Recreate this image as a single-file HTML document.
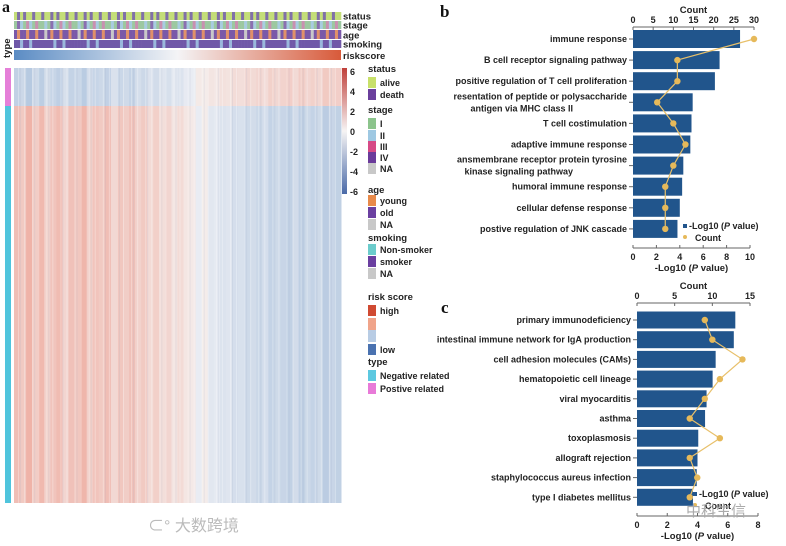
<!DOCTYPE html>
<html><head><meta charset="utf-8"><style>
body{margin:0;background:#fff;}
svg{display:block;font-family:"Liberation Sans","Noto Sans CJK SC",sans-serif;}
.t{font-size:9.5px;font-weight:bold;fill:#222;}
.s{font-size:9px;font-weight:bold;fill:#222;}
</style></head><body>
<svg id="fig" width="786" height="546" viewBox="0 0 786 546">
<g id="pa"></g>
<g id="pb"></g>
<g id="pc"></g>
<text x="148" y="531" font-size="16" fill="#bbb">⊂° 大数跨境</text>
<text x="686" y="516" font-size="15" fill="#aaa">中科生信</text>
</svg>
<script>
const NS="http://www.w3.org/2000/svg";
function mk(p,tag,at,txt){const e=document.createElementNS(NS,tag);for(const k in at)e.setAttribute(k,at[k]);if(txt!==undefined)e.textContent=txt;p.appendChild(e);return e;}

// ---------- panel b data ----------
const bTerms=["immune response","B cell receptor signaling pathway","positive regulation of T cell proliferation",["resentation of peptide or polysaccharide","antigen via MHC class II"],"T cell costimulation","adaptive immune response",["ansmembrane receptor protein tyrosine","kinase signaling pathway"],"humoral immune response","cellular defense response","postive regulation of JNK cascade"];
const bLogP=[9.15,7.4,7.0,5.1,5.0,4.9,4.3,4.2,4.0,3.8];
const bCount=[30,11,11,6,10,13,10,8,8,8];
const bPTicks=[0,2,4,6,8,10];
const bCTicks=[0,5,10,15,20,25,30];

// ---------- panel c data ----------
const cTerms=["primary immunodeficiency","intestinal immune network for IgA production","cell adhesion molecules (CAMs)","hematopoietic cell lineage","viral myocarditis","asthma","toxoplasmosis","allograft rejection","staphylococcus aureus infection","type I diabetes mellitus"];
const cLogP=[6.5,6.4,5.2,5.0,4.6,4.5,4.05,4.0,3.95,3.7];
const cCount=[9,10,14,11,9,7,11,7,8,7];
const cPTicks=[0,2,4,6,8];
const cCTicks=[0,5,10,15];

function barPanel(g,o){
  const xP=v=>o.x0+(o.x1-o.x0)*v/o.pMax;
  const xC=v=>o.x0+(o.cx1-o.x0)*v/o.cMax;
  const yc=i=>o.y0+i*o.step;
  mk(g,"text",{x:o.lx,y:o.ly,"font-size":17,"font-weight":"bold","font-family":"Liberation Serif, serif",fill:"#111"},o.letter);
  const ta=mk(g,"g",{});
  
  
  mk(ta,"line",{x1:xC(0),x2:xC(o.cMax),y1:o.topY,y2:o.topY,stroke:"#666","stroke-width":1});
  o.cTicks.forEach(t=>{mk(ta,"line",{x1:xC(t),x2:xC(t),y1:o.topY,y2:o.topY+3,stroke:"#666"});mk(ta,"text",{x:xC(t),y:o.topY-4,"text-anchor":"middle",class:"s"},t);});
  mk(ta,"text",{x:(xC(0)+xC(o.cMax))/2,y:o.topY-14,"text-anchor":"middle",class:"t"},"Count");
  o.vals.forEach((v,i)=>{
    const r=mk(g,"rect",{x:xP(0),y:yc(i)-o.bh/2,width:xP(v)-xP(0),height:o.bh,fill:"#21558c"});
    
    
    mk(g,"line",{x1:xP(0)-4,x2:xP(0),y1:yc(i),y2:yc(i),stroke:"#666"});
    const lab=o.terms[i];
    if(Array.isArray(lab)){
      mk(g,"text",{x:xP(0)-6,y:yc(i)-3,"text-anchor":"end",class:"s"},lab[0]);
      mk(g,"text",{x:xP(0)-60,y:yc(i)+9,"text-anchor":"end",class:"s"},lab[1]);
    } else {
      const t=mk(g,"text",{x:xP(0)-6,y:yc(i)+3,"text-anchor":"end",class:"s"},lab);
      
      
    }
  });
  const pts=o.counts.map((c,i)=>xC(c)+","+yc(i)).join(" ");
  const pl=mk(g,"polyline",{points:pts,fill:"none",stroke:"#e8c06a","stroke-width":1.2});
  
  o.counts.forEach((c,i)=>{
    const d=mk(g,"circle",{cx:xC(c),cy:yc(i),r:3.2,fill:"#e6b95a"});
    
    
  });
  const ba=mk(g,"g",{});
  
  
  mk(ba,"line",{x1:xP(0),x2:xP(o.pMax),y1:o.botY,y2:o.botY,stroke:"#666"});
  o.pTicks.forEach(t=>{mk(ba,"line",{x1:xP(t),x2:xP(t),y1:o.botY-3,y2:o.botY,stroke:"#666"});mk(ba,"text",{x:xP(t),y:o.botY+12,"text-anchor":"middle",class:"s"},t);});
  const tt=mk(ba,"text",{x:(xP(0)+xP(o.pMax))/2,y:o.botY+23,"text-anchor":"middle",class:"t"});
  tt.innerHTML='-Log10 (<tspan font-style="italic">P</tspan> value)';
  const lg=mk(g,"g",{});
  
  
  mk(lg,"rect",{x:o.legX,y:o.legY-5,width:4,height:4,fill:"#21558c"});
  const l1=mk(lg,"text",{x:o.legX+6,y:o.legY,class:"s"});l1.innerHTML='-Log10 (<tspan font-style="italic">P</tspan> value)';
  mk(lg,"circle",{cx:o.legX+2,cy:o.legY+8,r:2,fill:"#e6b95a"});
  mk(lg,"text",{x:o.legX+12,y:o.legY+12,class:"s"},"Count");
}
barPanel(document.getElementById('pb'),{letter:"b",lx:440,ly:17,x0:633,x1:750,pMax:10,cx1:754,cMax:30,y0:39,step:21.1,bh:18,topY:27,botY:248,
 terms:bTerms,vals:bLogP,counts:bCount,pTicks:bPTicks,cTicks:bCTicks,legX:683,legY:229});
barPanel(document.getElementById('pc'),{letter:"c",lx:441,ly:313,x0:637,x1:758,pMax:8,cx1:750,cMax:15,y0:320,step:19.7,bh:17,topY:303,botY:516,
 terms:cTerms,vals:cLogP,counts:cCount,pTicks:cPTicks,cTicks:cCTicks,legX:693,legY:497});

// ---------- panel a heatmap ----------
const colTone=[1.6,1.2,2.0,1.1,1.8,0.9,1.4,1.7,0.8,1.5,1.3,1.9,1.0,1.4,1.2,1.6,0.7,1.3,1.1,1.5,0.9,1.2,0.6,1.0,0.5,0.8,0.3,0.6,0.2,0.1,-0.1,0.0,-0.3,-0.2,-0.5,-0.4,-0.7,-0.6,-0.9,-0.8,-1.0,-0.7,-1.2,-0.9,-1.1,-1.3,-0.8,-1.4,-1.0,-1.2,-0.9,-1.5,-1.1,-1.3];
const statusCols=["#c8e06a","#6a4a9c"];
const stageCols=["#8cc48c","#9ec8e2","#d64a86","#6a3a9a","#c8c8c8"];
const a=document.getElementById('pa');
mk(a,"text",{x:2,y:12,"font-size":16,"font-weight":"bold","font-family":"Liberation Serif, serif",fill:"#111"},"a");
mk(a,"text",{x:0,y:0,transform:"translate(10,58) rotate(-90)",class:"t"},"type");
const hx0=14,hx1=341,hy0=68,hy1=503,split=106;
function col(v){
  const t=Math.max(-1,Math.min(1,v/2))*0.6;
  if(t>=0){return `rgb(${Math.round(244-8*t)},${Math.round(236-95*t)},${Math.round(234-110*t)})`;}
  const s=-t;return `rgb(${Math.round(236-110*s)},${Math.round(238-75*s)},${Math.round(244-40*s)})`;
}
const n=colTone.length,w=(hx1-hx0)/n;
const hm=mk(a,"g",{});


colTone.forEach((v,i)=>{
  mk(hm,"rect",{x:hx0+i*w,y:split,width:w+0.5,height:hy1-split,fill:col(v)});
  mk(hm,"rect",{x:hx0+i*w,y:hy0,width:w+0.5,height:split-hy0,fill:col(-v*0.8)});
});
for(let i=0;i<n*3;i++){const k=i%7;if(k===2||k===5)mk(hm,"rect",{x:hx0+i*w/3,y:hy0,width:1,height:hy1-hy0,fill:"#fff",opacity:0.3});if(k===3)mk(hm,"rect",{x:hx0+i*w/3,y:hy0,width:1,height:hy1-hy0,fill:"#9aa6c0",opacity:0.15});}
mk(a,"rect",{x:5,y:hy0,width:6,height:split-hy0,fill:"#e57fd8"});
mk(a,"rect",{x:5,y:split,width:6,height:hy1-split,fill:"#4fc4dc"});
const tracks=[["status",12,8],["stage",21,8],["age",30,9],["smoking",40,8]];
tracks.forEach(([nm,y,h],ti)=>{
  const tg=mk(a,"g",{});
  
  
  for(let i=0;i<n*2;i++){
    let c;const k=(i*7+ti*3)%11;
    if(nm==="status")c=k<7?"#c4de78":"#8070a8";
    else if(nm==="stage")c=k<5?"#9cc8a0":(k<8?"#a8cce0":(k<10?"#c890b0":"#8a70b0"));
    else if(nm==="age")c=k<3?"#e0906a":(k<10?"#7a58a8":"#c8c8c8");
    else c=k<2?"#9ab8dc":"#7058a8";
    mk(tg,"rect",{x:hx0+i*w/2,y:y,width:w/2+0.3,height:h,fill:c});
  }
  mk(a,"text",{x:343,y:y+h-0.5,class:"t","font-size":10.5},nm);
});
const rg=mk(a,"defs",{});const lgd=mk(rg,"linearGradient",{id:"rs"});
mk(lgd,"stop",{offset:"0",["stop-color"]:"#5b8cc4"});mk(lgd,"stop",{offset:"0.5",["stop-color"]:"#f4f4f6"});mk(lgd,"stop",{offset:"1",["stop-color"]:"#d85a3a"});
mk(a,"rect",{x:hx0,y:50,width:hx1-hx0,height:10,fill:"url(#rs)"});
mk(a,"text",{x:343,y:59,class:"t","font-size":10.5},"riskscore");
const vg=mk(rg,"linearGradient",{id:"cs",x1:0,y1:0,x2:0,y2:1});
mk(vg,"stop",{offset:"0",["stop-color"]:"#c0403a"});mk(vg,"stop",{offset:"0.5",["stop-color"]:"#f6f4f4"});mk(vg,"stop",{offset:"1",["stop-color"]:"#4a6aa8"});
mk(a,"rect",{x:342,y:68,width:5,height:126,fill:"url(#cs)"});
[6,4,2,0,-2,-4,-6].forEach((t,i)=>mk(a,"text",{x:350,y:75+i*20,class:"s"},t));
const L=[["status",72,null],["alive",86,"#c8e06a"],["death",98,"#6a3f9c"],["stage",113,null],["I",127,"#8cc48c"],["II",139,"#9ec8e2"],["III",150,"#d64a86"],["IV",161,"#6a3a9a"],["NA",172,"#c8c8c8"],
["age",193,null],["young",204,"#e88a4a"],["old",216,"#6a3fa0"],["NA",228,"#c8c8c8"],["smoking",241,null],["Non-smoker",253,"#6ccccc"],["smoker",265,"#6a3fa0"],["NA",277,"#c8c8c8"],
["risk score",300,null],["high",314,"#d04a32"],["low",353,"#4a72b0"],["type",365,null],["Negative related",379,"#5cc8e0"],["Postive related",392,"#e87ad8"]];
L.forEach(([t,y,c])=>{
  if(c){mk(a,"rect",{x:368,y:y-9,width:8,height:11,fill:c});mk(a,"text",{x:380,y:y,class:"s"},t);}
  else mk(a,"text",{x:368,y:y,class:"t","font-weight":"normal"},t);
});
mk(a,"rect",{x:368,y:318,width:8,height:12,fill:"#f0a48a"});
mk(a,"rect",{x:368,y:330,width:8,height:12,fill:"#b8cce4"});
</script>
</body></html>
